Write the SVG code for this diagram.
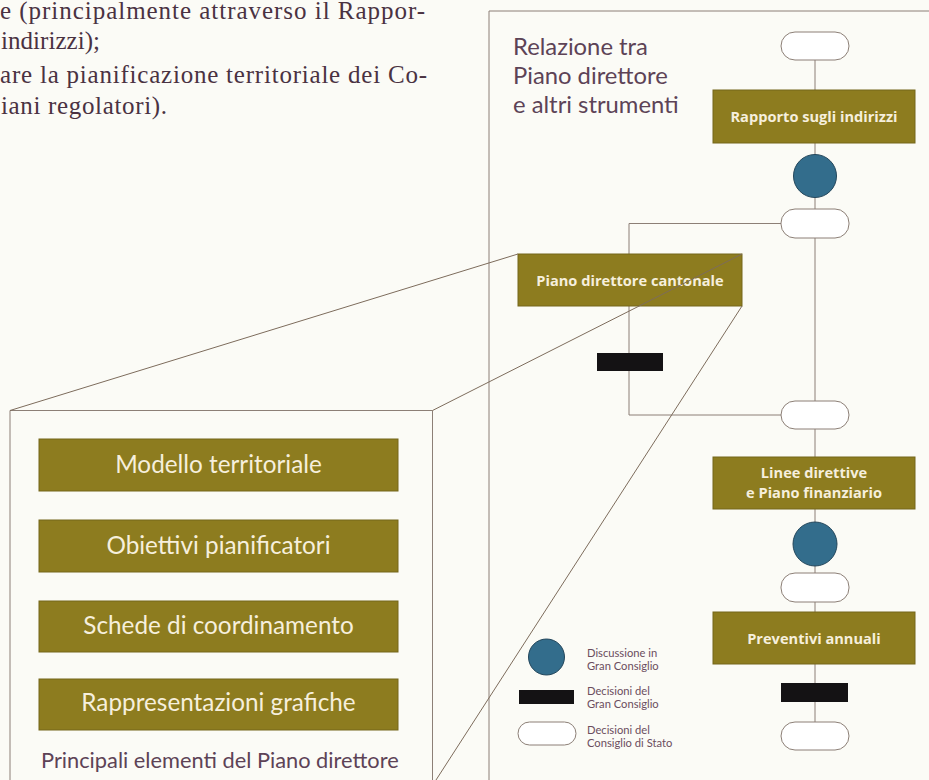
<svg xmlns="http://www.w3.org/2000/svg" width="929" height="780" viewBox="0 0 929 780">
<style>
.bg{fill:#fbfbf6}
.ln{fill:none;stroke:#8c7f76;stroke-width:1}
.pl{fill:none;stroke:#7d6c5c;stroke-width:1}
.gold{fill:#8d7c1f;stroke:#75661a;stroke-width:1}
.stad{fill:#ffffff;stroke:#8c7f76;stroke-width:1}
.blue{fill:#336d8c;stroke:#24475c;stroke-width:1}
.blk{fill:#141214}
.bt{font-family:"Open Sans",Lato,sans-serif;font-weight:bold;fill:#f6efdc;text-anchor:middle;font-size:14.6px}
.big{font-family:Lato,"Open Sans",sans-serif;fill:#f6efdc;text-anchor:middle;font-size:24.3px}
.ttl{font-family:Lato,"Open Sans",sans-serif;fill:#5d4356}
.lg{font-family:Lato,"Open Sans",sans-serif;fill:#6b4e5e;font-size:11.2px}
.ser{font-family:"Liberation Serif",serif;fill:#4a3242;font-size:25px}
</style>
<rect class="bg" x="0" y="0" width="929" height="780"/>

<g id="body-text">
<text class="ser" x="0" y="19" textLength="425" lengthAdjust="spacing">e (principalmente attraverso il Rappor-</text>
<text class="ser" x="1" y="49" textLength="99" lengthAdjust="spacing">indirizzi);</text>
<text class="ser" x="0" y="83" textLength="427" lengthAdjust="spacing">are la pianificazione territoriale dei Co-</text>
<text class="ser" x="1" y="114" textLength="166" lengthAdjust="spacing">iani regolatori).</text>
</g>

<g id="frames">
<path class="ln" d="M489,780 V11 H929"/>
<path class="ln" d="M10,780 V410.5 H432.5 V780"/>
</g>

<g id="title">
<text class="ttl" x="513" y="55" font-size="23.8">Relazione tra</text>
<text class="ttl" x="513" y="84" font-size="23.8">Piano direttore</text>
<text class="ttl" x="513" y="113" font-size="23.8">e altri strumenti</text>
</g>

<g id="connectors">
<line class="ln" x1="815" y1="46" x2="815" y2="736"/>
<path class="ln" d="M781,223.5 H629 V415 H781"/>
</g>

<g id="n-start"><rect class="stad" x="781" y="32" width="68" height="28" rx="14"/></g>
<g id="n-rapporto"><rect class="gold" x="713" y="90" width="202" height="53"/><text class="bt" x="814" y="121.5">Rapporto sugli indirizzi</text></g>
<g id="n-disc1"><circle class="blue" cx="815" cy="176" r="21.5"/></g>
<g id="n-cs1"><rect class="stad" x="781" y="209" width="68" height="29" rx="14"/></g>
<g id="n-pdc"><rect class="gold" x="518" y="254" width="224" height="52"/><text class="bt" x="630" y="285.5">Piano direttore cantonale</text></g>
<g id="n-gc1"><rect class="blk" x="597" y="353" width="66" height="18"/></g>
<g id="n-cs2"><rect class="stad" x="781" y="401" width="68" height="28" rx="14"/></g>
<g id="n-linee"><rect class="gold" x="713" y="457" width="202" height="52"/><text class="bt" x="814" y="477.5">Linee direttive</text><text class="bt" x="814" y="497.5">e Piano finanziario</text></g>
<g id="n-disc2"><circle class="blue" cx="815" cy="544" r="22"/></g>
<g id="n-cs3"><rect class="stad" x="781" y="573" width="68" height="29" rx="14"/></g>
<g id="n-prev"><rect class="gold" x="713" y="612" width="202" height="52"/><text class="bt" x="814" y="643.5" font-size="14.9">Preventivi annuali</text></g>
<g id="n-gc2"><rect class="blk" x="781" y="683" width="67" height="19"/></g>
<g id="n-cs4"><rect class="stad" x="781" y="722" width="68" height="28" rx="14"/></g>

<g id="perspective">
<line class="pl" x1="10" y1="410.5" x2="518" y2="254"/>
<line class="pl" x1="432.5" y1="410.5" x2="742" y2="254"/>
<line class="pl" x1="742" y1="306" x2="436" y2="780"/>
</g>

<g id="legend">
<circle class="blue" cx="546.5" cy="657" r="18"/>
<rect class="blk" x="519" y="690" width="55" height="14"/>
<rect class="stad" x="518" y="722" width="58" height="23" rx="11.5"/>
<text class="lg" x="587" y="657">Discussione in</text>
<text class="lg" x="587" y="670">Gran Consiglio</text>
<text class="lg" x="587" y="695">Decisioni del</text>
<text class="lg" x="587" y="708">Gran Consiglio</text>
<text class="lg" x="587" y="734">Decisioni del</text>
<text class="lg" x="587" y="747">Consiglio di Stato</text>
</g>

<g id="elements">
<g id="e-modello"><rect class="gold" x="39" y="439" width="359" height="52"/><text class="big" x="218.5" y="473">Modello territoriale</text></g>
<g id="e-obiettivi"><rect class="gold" x="39" y="520" width="359" height="52"/><text class="big" x="218.5" y="554">Obiettivi pianificatori</text></g>
<g id="e-schede"><rect class="gold" x="39" y="601" width="359" height="51"/><text class="big" x="218.5" y="634">Schede di coordinamento</text></g>
<g id="e-rappr"><rect class="gold" x="39" y="679" width="359" height="51"/><text class="big" x="218.5" y="711">Rappresentazioni grafiche</text></g>
<text class="ttl" x="41" y="768" font-size="21.8">Principali elementi del Piano direttore</text>
</g>
</svg>
